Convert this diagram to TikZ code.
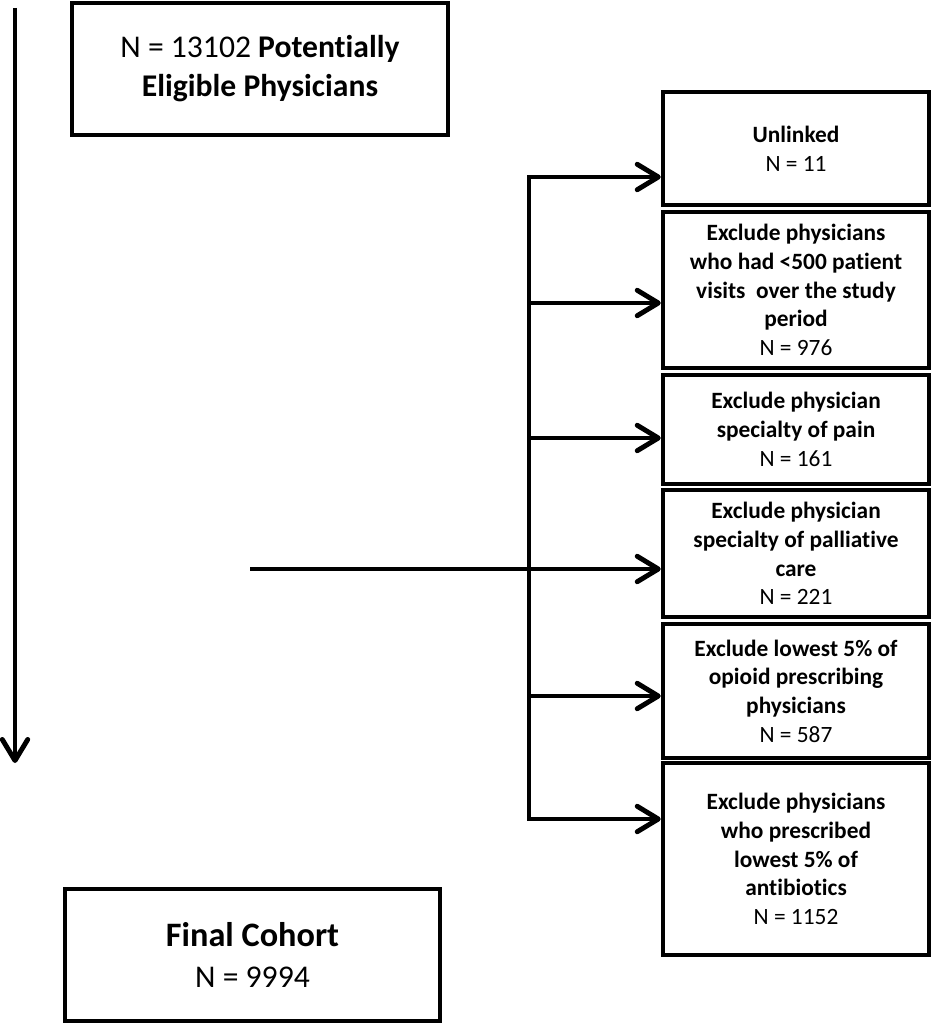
\documentclass[tikz,border=0pt]{standalone}
\usepackage{fontspec}
\setmainfont{Carlito}[RawFeature=-liga]
\usetikzlibrary{arrows.meta}
\tikzset{box/.style={draw, line width=2.6pt, align=center, inner sep=2pt},
  exbox/.style={box, minimum width=5.32cm, font=\fontsize{13.3}{16.3}\selectfont}}

\begin{document}
\begin{tikzpicture}[x=0.02cm, y=-0.02cm, >={Straight Barb[length=12pt,width=14.5pt,round]}, line width=2.8pt]
\useasboundingbox (0,0) rectangle (932,1023);
\node[box, minimum width=7.52cm, minimum height=2.64cm, font=\fontsize{18}{22.2}\selectfont] (top) at (260,69) {N = 13102 \textbf{Potentially}\\\textbf{Eligible Physicians}};
\node[box, minimum width=7.5cm, minimum height=2.64cm, font=\fontsize{18}{23}\selectfont] (final) at (252.5,955) {{\fontsize{19.5}{23}\selectfont\textbf{Final Cohort}}\\N = 9994};
\node[exbox, minimum height=2.26cm] (ex1) at (796,148.5) {\textbf{Unlinked}\\N = 11};
\node[exbox, minimum height=3.12cm] (ex2) at (796,290) {\textbf{Exclude physicians}\\\textbf{who had <500 patient}\\\textbf{visits\ \ over the study}\\\textbf{period}\\N = 976};
\node[exbox, minimum height=2.18cm] (ex3) at (796,429.5) {\textbf{Exclude physician}\\\textbf{specialty of pain}\\N = 161};
\node[exbox, minimum height=2.54cm] (ex4) at (796,553.5) {\textbf{Exclude physician}\\\textbf{specialty of palliative}\\\textbf{care}\\N = 221};
\node[exbox, minimum height=2.68cm] (ex5) at (796,691) {\textbf{Exclude lowest 5\% of}\\\textbf{opioid prescribing}\\\textbf{physicians}\\N = 587};
\node[exbox, minimum height=3.84cm] (ex6) at (796,859) {\textbf{Exclude physicians}\\\textbf{who prescribed}\\\textbf{lowest 5\% of}\\\textbf{antibiotics}\\N = 1152};
\foreach \n/\y in {1/177,2/303,3/438,5/696,6/819} \coordinate (b\n) at (529,\y);
\coordinate (s) at (250,569); \coordinate (l0) at (15,8); \coordinate (l1) at (15,763);
\draw[<->] (ex1.west |- b1) -- (b1) -- (b6) -- (ex6.west |- b6);
\foreach \n in {2,3,5} \draw[->] (b\n) -- (ex\n.west |- b\n);
\draw[->] (s) -- (ex4.west |- s); \draw[->] (l0) -- (l1);
\end{tikzpicture}
\end{document}
